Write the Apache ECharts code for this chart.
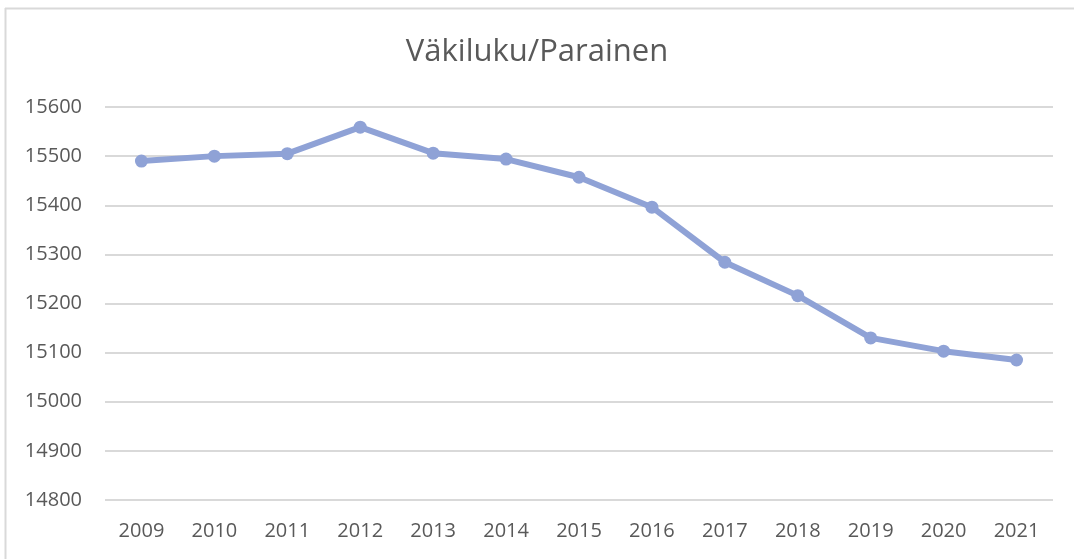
<!DOCTYPE html>
<html>
<head>
<meta charset="utf-8">
<script src="https://cdn.jsdelivr.net/npm/echarts@6/dist/echarts.min.js"></script>
<style>
html,body{margin:0;padding:0;background:#fff;}
#chart{width:1074px;height:559px;}
</style>
</head>
<body>
<div id="chart"></div>
<script>
const titleText = 'Väkiluku/Parainen';
const years = ['2009','2010','2011','2012','2013','2014','2015','2016','2017','2018','2019','2020','2021'];
const population = [15490, 15500, 15505, 15559, 15506, 15494, 15457, 15396, 15284, 15216, 15130, 15103, 15085];
const yMin = 14800, yMax = 15600, yStep = 100;

const chart = echarts.init(document.getElementById('chart'));
const font = '"Open Sans", "Noto Sans", sans-serif';
chart.setOption({
  animation: false,
  backgroundColor: '#fff',
  title: {
    text: titleText,
    left: 'center',
    top: 32,
    textStyle: {color: '#595959', fontSize: 31, fontWeight: 'normal', fontFamily: font}
  },
  graphic: [
    {type: 'line', shape: {x1: 5.5, y1: 8, x2: 5.5, y2: 559}, style: {stroke: '#d9d9d9', lineWidth: 2}},
    {type: 'line', shape: {x1: 5, y1: 8.5, x2: 1074, y2: 8.5}, style: {stroke: '#d9d9d9', lineWidth: 2}}
  ],
  grid: {left: 105, right: 21, top: 107, bottom: 59},
  xAxis: {
    type: 'category',
    data: years,
    boundaryGap: true,
    axisLine: {show: false},
    axisTick: {show: false},
    axisLabel: {color: '#595959', fontSize: 20, fontFamily: font, margin: 21}
  },
  yAxis: {
    type: 'value',
    min: yMin, max: yMax, interval: yStep,
    axisLine: {show: false},
    axisTick: {show: false},
    axisLabel: {color: '#595959', fontSize: 20, fontFamily: font, margin: 23,
      formatter: function (v) { return String(v); }},
    splitLine: {lineStyle: {color: '#d9d9d9', width: 2}}
  },
  series: [{
    type: 'line',
    data: population,
    symbol: 'circle',
    symbolSize: 13,
    itemStyle: {color: '#8fa2d6'},
    lineStyle: {color: '#8fa2d6', width: 6}
  }]
});
</script>
</body>
</html>
